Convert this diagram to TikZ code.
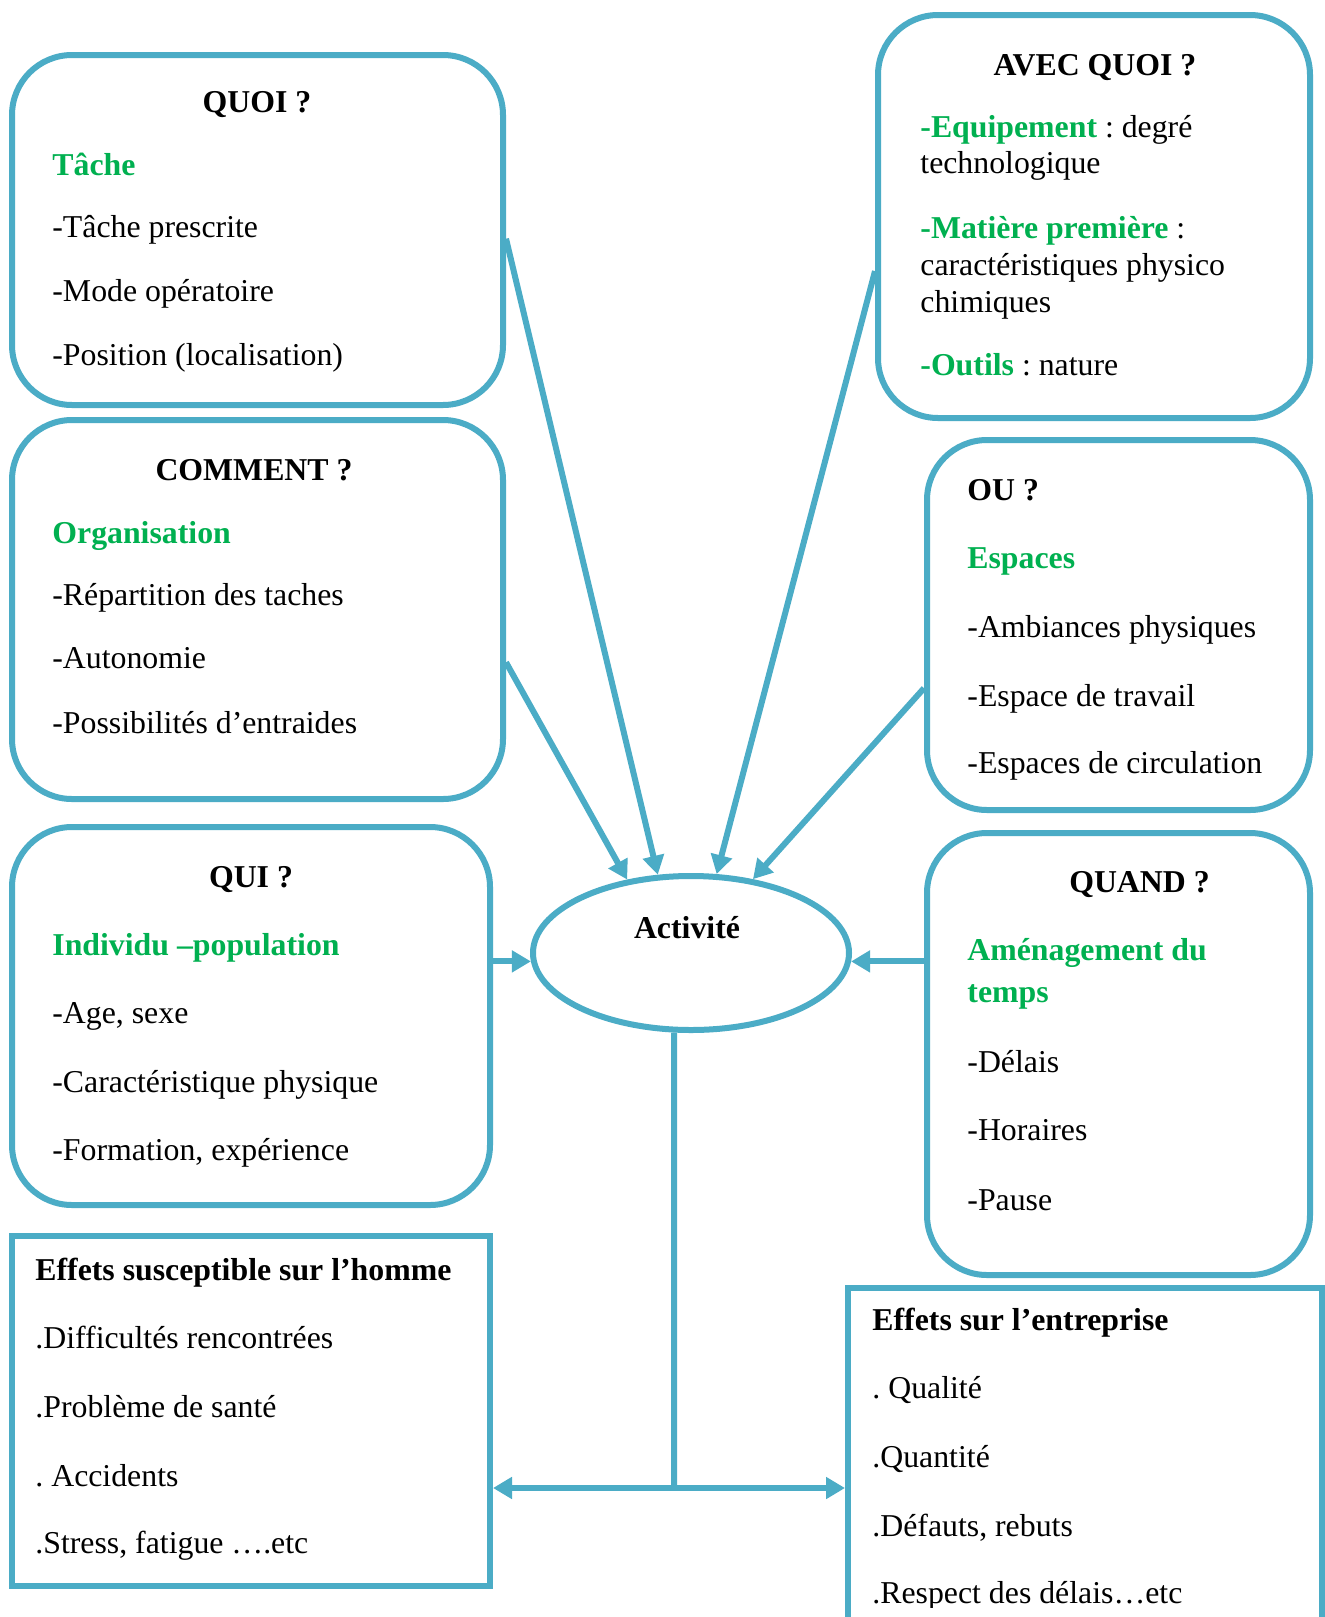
\documentclass[tikz,border=0pt]{standalone}
\usepackage{fontspec}
\setmainfont{Liberation Serif}
\usetikzlibrary{arrows.meta,shapes.geometric}
\definecolor{accent}{HTML}{4BACC6}
\definecolor{grn}{HTML}{00B050}
\newcommand\dfont{\fontsize{15.9}{19}\selectfont}
\frenchspacing

\begin{document}
\begin{tikzpicture}[x=0.5pt,y=-0.5pt,
  rbox/.style={draw=accent, line width=3pt, rounded corners=30pt, rectangle, inner sep=0pt},
  sbox/.style={draw=accent, line width=3pt, rectangle, inner sep=0pt},
  oval/.style={draw=accent, line width=3pt, ellipse, inner sep=0pt},
  txt/.style={anchor=base west, inner sep=0pt, font=\dfont},
  head/.style={anchor=base, inner sep=0pt, font=\dfont\bfseries},
  headl/.style={anchor=base west, inner sep=0pt, font=\dfont\bfseries},
  key/.style={anchor=base west, inner sep=0pt, font=\dfont\bfseries, text=grn},
  arr/.style={draw=accent, line width=3pt, -{Triangle[length=9.5pt,width=10.5pt]}},
  link/.style={draw=accent, line width=3pt}
]
\useasboundingbox (0,0) rectangle (1325,1617);
\clip (0,0) rectangle (1325,1617);
\fill[white] (0,0) rectangle (1325,1617);

% ---- boxes ----
\node[rbox, minimum width=245.5pt, minimum height=175pt]   (quoi)    at (257.5,230) {};
\node[rbox, minimum width=245.5pt, minimum height=189.5pt] (comment) at (257.5,609.5) {};
\node[rbox, minimum width=239pt,   minimum height=189pt]   (qui)     at (251,1016) {};
\node[sbox, minimum width=239pt,   minimum height=175pt]   (homme)   at (251,1411) {};
\node[rbox, minimum width=216pt,   minimum height=201.5pt] (avec)    at (1094,216.5) {};
\node[rbox, minimum width=191.5pt, minimum height=185pt]   (ou)      at (1118.5,625) {};
\node[rbox, minimum width=191.5pt, minimum height=221pt]   (quand)   at (1118.5,1054) {};
\node[sbox, minimum width=237pt,   minimum height=176pt]   (entr)    at (1085,1464) {};
\node[oval, minimum width=158pt,   minimum height=77pt]    (act)     at (691,953) {};
\node[head] (actlbl) at (687,938) {Activité};

% ---- QUOI ----
\node[head] (quoih) at (257,112) {QUOI ?};
\node[key]  (quoik) at (52,175) {Tâche};
\node[txt]  (quoi1) at (52,237) {-Tâche prescrite};
\node[txt]  (quoi2) at (52,301) {-Mode opératoire};
\node[txt]  (quoi3) at (52,365) {-Position (localisation)};

% ---- COMMENT ----
\node[head] (commh) at (254,480) {COMMENT ?};
\node[key]  (commk) at (52,543) {Organisation};
\node[txt]  (comm1) at (52,605) {-Répartition des taches};
\node[txt]  (comm2) at (52,668) {-Autonomie};
\node[txt]  (comm3) at (52,733) {-Possibilités d’entraides};

% ---- QUI ----
\node[head] (quih) at (251,887) {QUI ?};
\node[key]  (quik) at (52,955) {Individu –population};
\node[txt]  (qui1) at (52,1023) {-Age, sexe};
\node[txt]  (qui2) at (52,1092) {-Caractéristique physique};
\node[txt]  (qui3) at (52,1160) {-Formation, expérience};

% ---- effets sur l'homme ----
\node[headl] (hommh) at (35,1280) {Effets susceptible sur l’homme};
\node[txt]   (homm1) at (35,1348) {.Difficultés rencontrées};
\node[txt]   (homm2) at (35,1417) {.Problème de santé};
\node[txt]   (homm3) at (35,1486) {. Accidents};
\node[txt]   (homm4) at (35,1553) {.Stress, fatigue ….etc};

% ---- AVEC QUOI ----
\node[head] (avech) at (1095,75) {AVEC QUOI ?};
\node[txt]  (avec1a) at (920,137) {\textcolor{grn}{\bfseries -Equipement} : degré};
\node[txt]  (avec1b) at (920,173) {technologique};
\node[txt]  (avec2a) at (920,238) {\textcolor{grn}{\bfseries -Matière première} :};
\node[txt]  (avec2b) at (920,275) {caractéristiques physico};
\node[txt]  (avec2c) at (920,312) {chimiques};
\node[txt]  (avec3)  at (920,375) {\textcolor{grn}{\bfseries -Outils} : nature};

% ---- OU ----
\node[headl] (ouh) at (967,500) {OU ?};
\node[key]   (ouk) at (967,568) {Espaces};
\node[txt]   (ou1) at (967,637) {-Ambiances physiques};
\node[txt]   (ou2) at (967,706) {-Espace de travail};
\node[txt]   (ou3) at (967,773) {-Espaces de circulation};

% ---- QUAND ----
\node[head] (quandh)  at (1139.5,892) {QUAND ?};
\node[key]  (quandka) at (967,960) {Aménagement du};
\node[key]  (quandkb) at (967,1002) {temps};
\node[txt]  (quand1)  at (967,1072) {-Délais};
\node[txt]  (quand2)  at (967,1140) {-Horaires};
\node[txt]  (quand3)  at (967,1210) {-Pause};

% ---- effets sur l'entreprise ----
\node[headl] (entrh) at (872,1330) {Effets sur l’entreprise};
\node[txt]   (entr1) at (872,1398) {. Qualité};
\node[txt]   (entr2) at (872,1467) {.Quantité};
\node[txt]   (entr3) at (872,1536) {.Défauts, rebuts};
\begin{scope}
  \clip (848,1288) rectangle (1322,1607);
  \node[txt] (entr4) at (872,1603) {.Respect des délais…etc};
\end{scope}

% ---- connectors ----
\draw[arr] (quoi.-2) -- (act.113);
\draw[arr] (comment.-12.7) -- (act.131.5);
\draw[arr] (avec.194) -- (act.72);
\draw[arr] (ou.198.7) -- (act.50.6);
\draw[arr] (qui.east |- act.183) -- (act.183);
\draw[arr] (quand.west |- act.-3) -- (act.-3);

\coordinate (j) at (674,1488);
\draw[link] (act.-102) -- (j);
\draw[arr] (j) -- (homme.east |- j);
\draw[arr] (j) -- (entr.west |- j);
\end{tikzpicture}
\end{document}
